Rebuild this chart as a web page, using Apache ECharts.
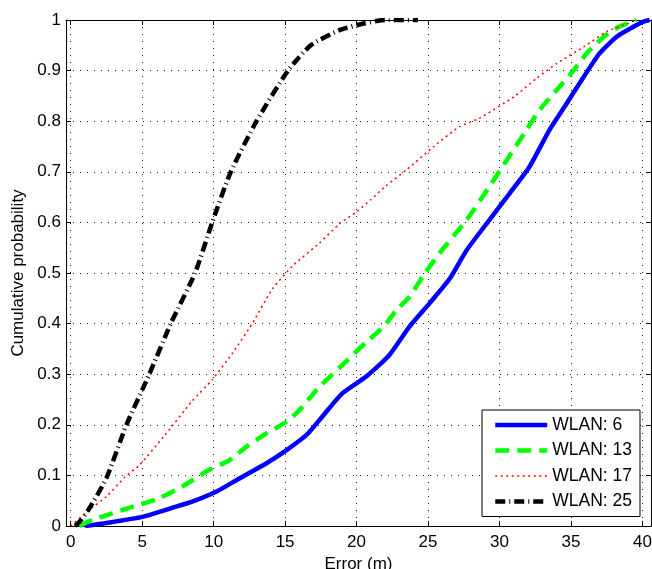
<!DOCTYPE html>
<html>
<head>
<meta charset="utf-8">
<script src="https://cdn.jsdelivr.net/npm/echarts@6/dist/echarts.min.js"></script>
<style>
  html, body { margin: 0; padding: 0; background: #fff; }
  #chart { width: 652px; height: 569px; }
</style>
</head>
<body>
<div id="chart"></div>
<script>
// Empirical CDFs of the positioning error for different numbers of WLAN access points
const seriesNames = ['WLAN: 6', 'WLAN: 13', 'WLAN: 17', 'WLAN: 25'];

const wlan6X = [1.0, 2.5, 5.0, 7.0, 8.5, 10.2, 11.8, 13.7, 15.1, 16.5, 17.6, 19.0, 20.7, 22.3, 23.7, 25.1, 26.5, 27.7, 29.3, 30.7, 32.1, 33.5, 34.7, 35.9, 37.0, 38.2, 39.4, 40.1, 40.5];
const wlan6Y = [0.0, 0.006, 0.018, 0.035, 0.048, 0.068, 0.094, 0.124, 0.150, 0.180, 0.216, 0.262, 0.296, 0.338, 0.394, 0.440, 0.488, 0.545, 0.605, 0.657, 0.710, 0.783, 0.835, 0.888, 0.934, 0.967, 0.987, 0.997, 1.0];

const wlan13X = [0.6, 1.5, 2.9, 4.3, 6.2, 7.8, 9.7, 11.1, 12.3, 13.7, 15.1, 16.0, 17.4, 19.0, 20.7, 21.9, 22.8, 23.7, 24.7, 25.8, 27.7, 29.3, 30.5, 31.9, 32.8, 34.2, 35.2, 36.1, 37.3, 38.4, 39.6];
const wlan13Y = [0.0, 0.012, 0.025, 0.038, 0.055, 0.078, 0.111, 0.130, 0.157, 0.183, 0.206, 0.229, 0.275, 0.318, 0.364, 0.394, 0.427, 0.453, 0.496, 0.539, 0.605, 0.671, 0.723, 0.783, 0.822, 0.868, 0.901, 0.934, 0.967, 0.987, 1.0];

const wlan17X = [0.0, 1.3, 2.5, 3.8, 4.8, 6.6, 8.5, 9.9, 11.3, 12.7, 14.1, 15.6, 17.4, 18.8, 20.0, 21.0, 22.0, 23.5, 25.4, 27.2, 28.6, 31.0, 32.6, 34.0, 35.9, 37.5, 38.7, 39.6];
const wlan17Y = [0.0, 0.032, 0.058, 0.097, 0.120, 0.180, 0.247, 0.289, 0.341, 0.400, 0.468, 0.516, 0.559, 0.597, 0.621, 0.645, 0.671, 0.704, 0.750, 0.789, 0.806, 0.848, 0.885, 0.914, 0.947, 0.977, 0.990, 1.0];

const wlan25X = [0.3, 0.6, 1.2, 2.5, 3.9, 5.5, 7.0, 8.7, 9.9, 11.2, 13.0, 15.2, 16.8, 18.8, 20.5, 22.0, 24.3];
const wlan25Y = [0.0, 0.008, 0.03, 0.095, 0.2, 0.3, 0.4, 0.5, 0.6, 0.7, 0.8, 0.9, 0.95, 0.98, 0.993, 1.0, 1.0];

const xTicks = [0, 5, 10, 15, 20, 25, 30, 35, 40];
const yTickStep = 0.1;

const zip = (xs, ys) => xs.map((x, i) => [x, ys[i]]);

const FONT = 'Liberation Sans';
const gridDots = { color: '#222', width: 1, type: [1, 6] };

const chart = echarts.init(document.getElementById('chart'), null, { renderer: 'canvas' });

const xBase = {
  type: 'value',
  min: -0.33,
  max: 40.6,
  axisLine: { show: true, onZero: false, lineStyle: { color: '#000', width: 1 } },
  axisTick: { show: true, inside: true, length: 5, customValues: xTicks, lineStyle: { color: '#000' } }
};
const yBase = {
  type: 'value',
  min: 0,
  max: 1,
  interval: yTickStep,
  axisLine: { show: true, onZero: false, lineStyle: { color: '#000', width: 1 } },
  axisTick: { show: true, inside: true, length: 5, lineStyle: { color: '#000' } }
};

const styles = [
  { color: '#0000ff', width: 4.5, type: 'solid' },
  { color: '#00ff00', width: 4.5, type: [14, 8] },
  { color: '#ff0000', width: 1.5, type: [2, 3.5] },
  { color: '#000000', width: 4.5, type: [10, 4, 1, 4] }
];
const xs = [wlan6X, wlan13X, wlan17X, wlan25X];
const ys = [wlan6Y, wlan13Y, wlan17Y, wlan25Y];

chart.setOption({
  animation: false,
  backgroundColor: '#fff',
  textStyle: { fontFamily: FONT },
  grid: { left: 66, right: 1, top: 20, bottom: 43, containLabel: false, outerBoundsMode: 'none' },
  xAxis: [
    Object.assign({}, xBase, {
      position: 'bottom',
      name: 'Error (m)',
      nameLocation: 'middle',
      nameGap: 28,
      nameTextStyle: { color: '#000', fontSize: 17, fontFamily: FONT },
      axisLabel: { show: true, customValues: xTicks, margin: 8, color: '#000', fontSize: 17, fontFamily: FONT },
      splitLine: { show: true, lineStyle: gridDots }
    }),
    Object.assign({}, xBase, {
      position: 'top',
      axisLabel: { show: false },
      splitLine: { show: false }
    })
  ],
  yAxis: [
    Object.assign({}, yBase, {
      position: 'left',
      name: 'Cumulative probability',
      nameLocation: 'middle',
      nameGap: 37,
      nameTextStyle: { color: '#000', fontSize: 17, fontFamily: FONT },
      axisLabel: { show: true, margin: 5, color: '#000', fontSize: 17, fontFamily: FONT },
      splitLine: { show: true, lineStyle: gridDots }
    }),
    Object.assign({}, yBase, {
      position: 'right',
      axisLabel: { show: false },
      splitLine: { show: false }
    })
  ],
  legend: {
    orient: 'vertical',
    left: 482,
    top: 410,
    data: seriesNames.map((name, i) => ({
      name: name,
      itemStyle: { opacity: 0 },
      lineStyle: { color: styles[i].color, width: styles[i].width, type: styles[i].type }
    })),
    backgroundColor: '#fff',
    borderColor: '#000',
    borderWidth: 1,
    borderRadius: 0,
    padding: [6, 8, 6, 11],
    itemWidth: 52,
    itemHeight: 14,
    itemGap: 7.5,
    textStyle: { color: '#000', fontSize: 17.5, lineHeight: 17, fontFamily: FONT }
  },
  series: seriesNames.map((name, i) => ({
    name: name,
    type: 'line',
    data: zip(xs[i], ys[i]),
    showSymbol: false,
    symbol: 'none',
    smooth: 0.2,
    lineStyle: styles[i],
    itemStyle: { color: styles[i].color }
  }))
});
</script>
</body>
</html>
